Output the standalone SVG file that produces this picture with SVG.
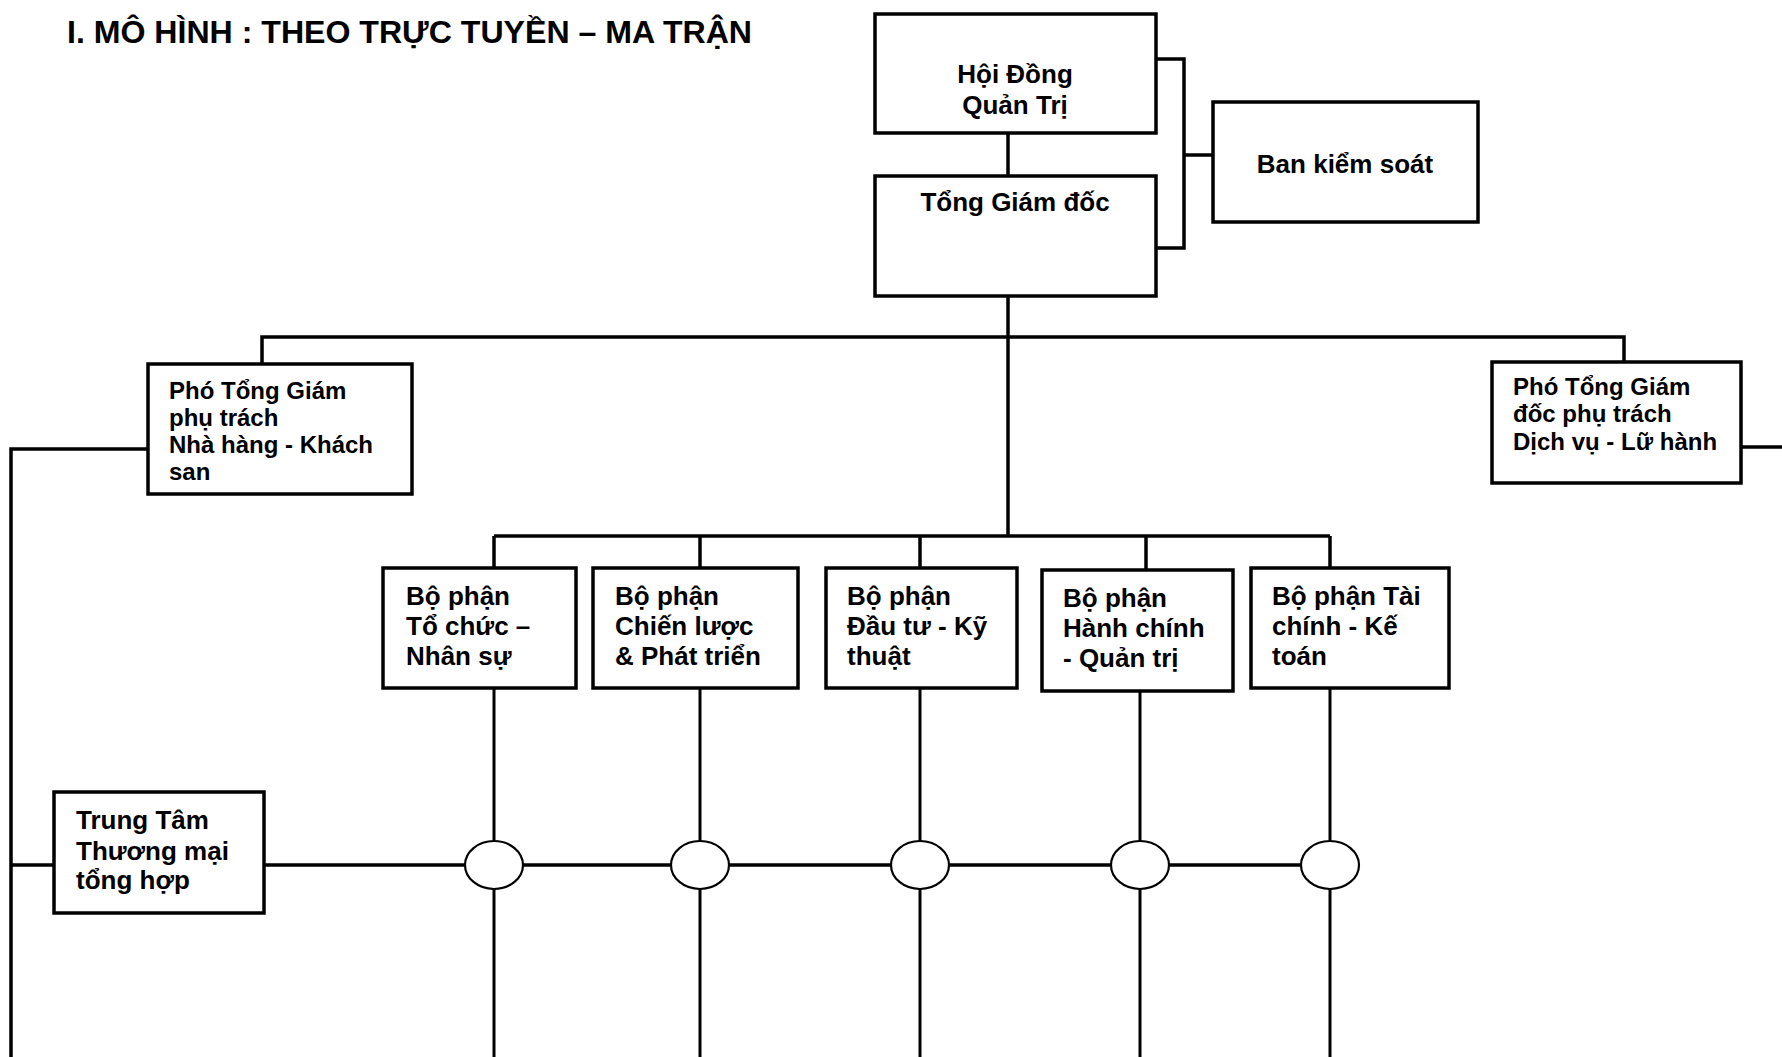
<svg xmlns="http://www.w3.org/2000/svg" width="1782" height="1057" viewBox="0 0 1782 1057">
<style>
.box{fill:#fff;stroke:#000;stroke-width:3.5}
.ln{fill:none;stroke:#000;stroke-width:3.5}
.vl{fill:none;stroke:#000;stroke-width:3}
.cir{fill:#fff;stroke:#000;stroke-width:2.2}
text{font-family:"Liberation Sans",Arial,sans-serif;font-weight:bold;fill:#000}
.t26{font-size:26px}
.t23{font-size:24px}
.c{text-anchor:middle}
</style>
<rect width="1782" height="1057" fill="#fff"/>
<text x="67" y="43" style="font-size:32px" textLength="685" lengthAdjust="spacingAndGlyphs">I. MÔ HÌNH : THEO TRỰC TUYỀN – MA TRẬN</text>
<g id="connectors">
<line class="ln" x1="1008" y1="133" x2="1008" y2="175"/>
<polyline class="ln" points="1156,59 1184,59 1184,248 1156,248"/>
<line class="ln" x1="1184" y1="155" x2="1213" y2="155"/>
<line class="ln" x1="1008" y1="297" x2="1008" y2="536"/>
<polyline class="ln" points="262,364 262,337 1624,337 1624,361"/>
<line class="ln" x1="494" y1="536" x2="1330" y2="536"/>
<line class="ln" x1="494" y1="536" x2="494" y2="567"/>
<line class="ln" x1="700" y1="536" x2="700" y2="567"/>
<line class="ln" x1="920" y1="536" x2="920" y2="567"/>
<line class="ln" x1="1146" y1="536" x2="1146" y2="569"/>
<line class="ln" x1="1330" y1="536" x2="1330" y2="567"/>
<polyline class="ln" points="148,449 11,449 11,1057"/>
<line class="ln" x1="1741" y1="447" x2="1782" y2="447"/>
<line class="ln" x1="11" y1="865" x2="54" y2="865"/>
<line class="ln" x1="264" y1="865" x2="1330" y2="865"/>
<line class="vl" x1="494" y1="689" x2="494" y2="1057"/>
<line class="vl" x1="700" y1="689" x2="700" y2="1057"/>
<line class="vl" x1="920" y1="689" x2="920" y2="1057"/>
<line class="vl" x1="1140" y1="691" x2="1140" y2="1057"/>
<line class="vl" x1="1330" y1="689" x2="1330" y2="1057"/>
</g>
<g id="junctions">
<ellipse class="cir" cx="494" cy="865" rx="29" ry="24"/>
<ellipse class="cir" cx="700" cy="865" rx="29" ry="24"/>
<ellipse class="cir" cx="920" cy="865" rx="29" ry="24"/>
<ellipse class="cir" cx="1140" cy="865" rx="29" ry="24"/>
<ellipse class="cir" cx="1330" cy="865" rx="29" ry="24"/>
</g>
<g id="hdqt"><rect class="box" x="875" y="14" width="281" height="119"/>
<text class="t26 c" x="1015" y="83">Hội Đồng</text><text class="t26 c" x="1015" y="114">Quản Trị</text></g>
<g id="tgd"><rect class="box" x="875" y="176" width="281" height="120"/>
<text class="t26 c" x="1015" y="211">Tổng Giám đốc</text></g>
<g id="bks"><rect class="box" x="1213" y="102" width="265" height="120"/>
<text class="t26 c" x="1345" y="173">Ban kiểm soát</text></g>
<g id="ptg-nhks"><rect class="box" x="148" y="364" width="264" height="130"/>
<text class="t23" x="169" y="399">Phó Tổng Giám</text><text class="t23" x="169" y="426">phụ trách</text><text class="t23" x="169" y="453">Nhà hàng - Khách</text><text class="t23" x="169" y="480">san</text></g>
<g id="ptg-dvlh"><rect class="box" x="1492" y="362" width="249" height="121"/>
<text class="t23" x="1513" y="395">Phó Tổng Giám</text><text class="t23" x="1513" y="422">đốc phụ trách</text><text class="t23" x="1513" y="450">Dịch vụ - Lữ hành</text></g>
<g id="bp-tcns"><rect class="box" x="383" y="568" width="193" height="120"/>
<text class="t26" x="406" y="605">Bộ phận</text><text class="t26" x="406" y="635">Tổ chức –</text><text class="t26" x="406" y="665">Nhân sự</text></g>
<g id="bp-cl"><rect class="box" x="593" y="568" width="205" height="120"/>
<text class="t26" x="615" y="605">Bộ phận</text><text class="t26" x="615" y="635">Chiến lược</text><text class="t26" x="615" y="665">&amp; Phát triển</text></g>
<g id="bp-dt"><rect class="box" x="826" y="568" width="191" height="120"/>
<text class="t26" x="847" y="605">Bộ phận</text><text class="t26" x="847" y="635">Đầu tư - Kỹ</text><text class="t26" x="847" y="665">thuật</text></g>
<g id="bp-hc"><rect class="box" x="1042" y="570" width="191" height="121"/>
<text class="t26" x="1063" y="607">Bộ phận</text><text class="t26" x="1063" y="637">Hành chính</text><text class="t26" x="1063" y="667">- Quản trị</text></g>
<g id="bp-tc"><rect class="box" x="1251" y="568" width="198" height="120"/>
<text class="t26" x="1272" y="605">Bộ phận Tài</text><text class="t26" x="1272" y="635">chính - Kế</text><text class="t26" x="1272" y="665">toán</text></g>
<g id="tttm"><rect class="box" x="54" y="792" width="210" height="121"/>
<text class="t26" x="76" y="829">Trung Tâm</text><text class="t26" x="76" y="860">Thương mại</text><text class="t26" x="76" y="889">tổng hợp</text></g>
</svg>
